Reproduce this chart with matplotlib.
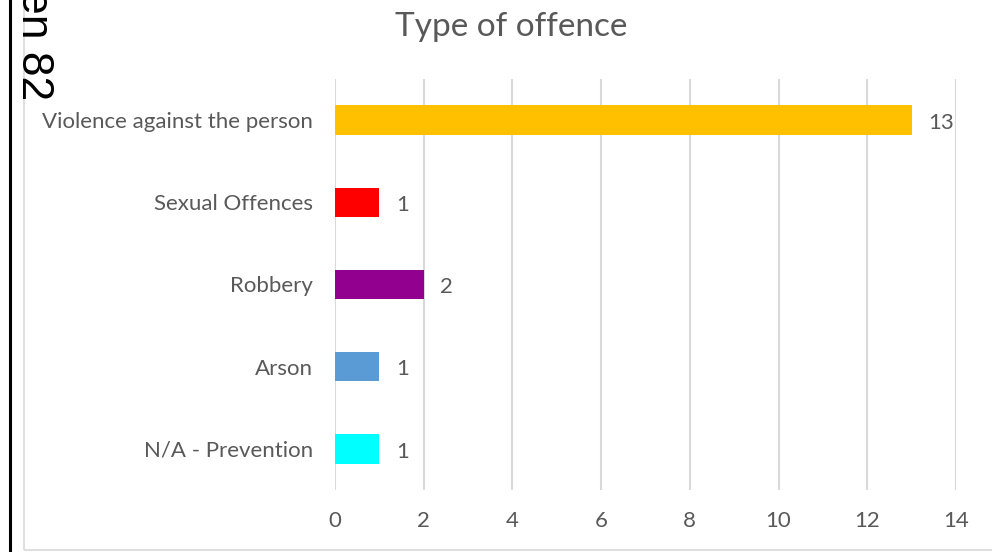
import matplotlib.pyplot as plt
from matplotlib.patches import Rectangle

plt.rcParams['font.family'] = ['Lato', 'DejaVu Sans']

# data, bottom to top as drawn
categories = ['N/A - Prevention', 'Arson', 'Robbery', 'Sexual Offences', 'Violence against the person']
counts = [1, 1, 2, 1, 13]
colors = ['#00FFFF', '#5B9BD5', '#92008F', '#FF0000', '#FFC000']
xticks = [0, 2, 4, 6, 8, 10, 12, 14]

text_grey = '#595959'
grid_grey = '#D9D9D9'

fig = plt.figure(figsize=(9.92, 5.52), dpi=100)

# outer chart frame and the black page edge
fig.patches.append(Rectangle((24 / 992, 2 / 552), 1.0, 1.0, transform=fig.transFigure,
                             fill=False, edgecolor=grid_grey, linewidth=1.2))
fig.add_artist(plt.Line2D([10 / 992, 10 / 992], [0, 1], transform=fig.transFigure,
                          color='black', linewidth=2.2))
fig.text(33 / 992, 1 - 100 / 552, 'en 82', rotation=270, ha='center', va='bottom',
         fontsize=32, family=['Liberation Sans', 'DejaVu Sans'], color='black')

ax = fig.add_axes([335 / 992, 1 - 490 / 552, 621 / 992, 411 / 552])
y = range(len(categories))
ax.barh(y, counts, height=0.36, color=colors, zorder=3)

for yi, v in zip(y, counts):
    ax.annotate(str(v), (v, yi), xytext=(12, -2), textcoords='offset points',
                ha='left', va='center', fontsize=16, color=text_grey)

ax.set_xlim(0, 14)
ax.set_ylim(-0.5, len(categories) - 0.5)
ax.set_xticks(xticks)
ax.set_yticks(list(y))
ax.set_yticklabels(categories)
ax.tick_params(axis='both', length=0, labelsize=16, labelcolor=text_grey)
ax.tick_params(axis='y', pad=16)
ax.tick_params(axis='x', pad=15)
ax.grid(axis='x', color=grid_grey, linewidth=1.5, zorder=0)
for s in ax.spines.values():
    s.set_visible(False)

fig.text(511 / 992, 1 - 27 / 552, 'Type of offence', ha='center', va='center',
         fontsize=24, color=text_grey)

fig.savefig('out.png', dpi=100)
